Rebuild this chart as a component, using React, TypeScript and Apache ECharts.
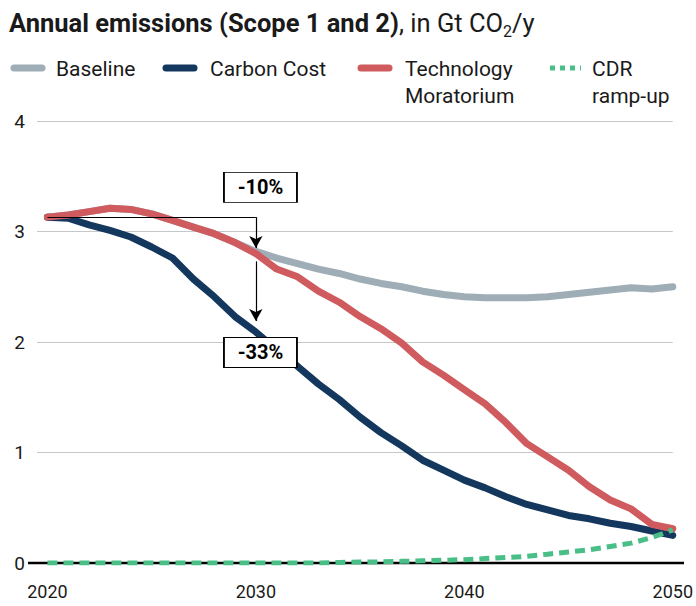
import React, { useEffect, useRef } from "react";
import * as echarts from "echarts";

const FONT = "Roboto";
const TEXT = "#1a1a1a";

const years = [
  2020, 2021, 2022, 2023, 2024, 2025, 2026, 2027, 2028, 2029, 2030,
  2031, 2032, 2033, 2034, 2035, 2036, 2037, 2038, 2039, 2040,
  2041, 2042, 2043, 2044, 2045, 2046, 2047, 2048, 2049, 2050,
];
const baseline = [
  3.13, 3.15, 3.18, 3.21, 3.2, 3.16, 3.1, 3.04, 2.98, 2.9, 2.82,
  2.76, 2.71, 2.66, 2.62, 2.57, 2.53, 2.5, 2.46, 2.43, 2.41,
  2.4, 2.4, 2.4, 2.41, 2.43, 2.45, 2.47, 2.49, 2.48, 2.5,
];
const carbonCost = [
  3.13, 3.12, 3.06, 3.01, 2.95, 2.86, 2.76, 2.57, 2.41, 2.23, 2.09,
  1.93, 1.78, 1.62, 1.48, 1.32, 1.18, 1.06, 0.93, 0.84, 0.75,
  0.68, 0.6, 0.53, 0.48, 0.43, 0.4, 0.36, 0.33, 0.29, 0.25,
];
const techMoratorium = [
  3.13, 3.15, 3.18, 3.21, 3.2, 3.16, 3.1, 3.04, 2.98, 2.9, 2.8,
  2.66, 2.59, 2.46, 2.36, 2.23, 2.12, 1.99, 1.82, 1.7, 1.57,
  1.44, 1.27, 1.08, 0.96, 0.84, 0.69, 0.57, 0.49, 0.35, 0.31,
];
const cdrRampUp = [
  0, 0, 0, 0, 0, 0, 0, 0, 0, 0, 0,
  0, 0, 0, 0.005, 0.01, 0.01, 0.015, 0.02, 0.025, 0.03,
  0.04, 0.05, 0.06, 0.08, 0.1, 0.12, 0.15, 0.18, 0.23, 0.3,
];
const xTickLabels = [2020, 2030, 2040, 2050];
const seriesNames = ["Baseline", "Carbon Cost", "Technology\nMoratorium", "CDR\nramp-up"];
const colors = ["#9eadb6", "#14375e", "#d05b5f", "#49bf87"];

// annotation values
const refStartYear = 2020;
const refYear = 2030;
const refLevel = 3.13;
const arrow1End = 2.85;
const arrow2Start = 2.73;
const arrow2End = 2.19;
const labels = ["-10%", "-33%"];
const labelYears = [2030.22, 2030.22];
const labelLevels = [3.4, 1.905];

const pairs = (vals: number[]) => years.map((y, i) => [y, vals[i]]);

export default function App() {
  const ref = useRef<HTMLDivElement>(null);
  useEffect(() => {
    if (!ref.current) return;
    const chart = echarts.init(ref.current, undefined, { renderer: "svg" });
    const lineBase = (name: string, color: string, vals: number[], z: number) => ({
      type: "line",
      name,
      data: pairs(vals),
      showSymbol: false,
      symbol: "none",
      z,
      lineStyle: { color, width: 7, cap: "round", join: "round" },
    });

    const legendItems: any[] = [];
    const legendIconX = [11, 163, 358, 550];
    const legendTextX = [56, 210, 405, 592];
    const legendY = 68;
    seriesNames.forEach((n, i) => {
      const dotted = i === 3;
      legendItems.push({
        type: "line",
        shape: { x1: legendIconX[i] + (dotted ? 0 : 3), y1: legendY, x2: legendIconX[i] + 31, y2: legendY },
        style: {
          stroke: colors[i],
          lineWidth: dotted ? 5 : 7,
          lineCap: dotted ? "butt" : "round",
          lineDash: dotted ? [5, 5] : null,
        },
      });
      legendItems.push({
        type: "text",
        x: legendTextX[i],
        y: legendY - 13,
        style: {
          text: n,
          font: `21px ${FONT}`,
          fill: TEXT,
          lineHeight: 27,
          verticalAlign: "top",
        },
      });
    });

    const option: any = {
      animation: false,
      textStyle: { fontFamily: FONT },
      title: {
        left: 4,
        top: 2,
        text: "{b|Annual emissions (Scope 1 and 2)}{r|, in Gt CO}{s|2}{r|/y}",
        textStyle: {
          rich: {
            b: { fontFamily: FONT, fontWeight: "bold", fontSize: 25.5, color: TEXT, lineHeight: 30 },
            r: { fontFamily: FONT, fontWeight: "normal", fontSize: 25.5, color: TEXT, lineHeight: 30 },
            s: { fontFamily: FONT, fontWeight: "normal", fontSize: 16, color: TEXT, padding: [16, 0, 0, 0] },
          },
        },
      },
      grid: { left: 37, right: 23, top: 121, bottom: 43, containLabel: false },
      xAxis: {
        type: "value",
        min: 2019.5,
        max: 2050,
        axisLine: { show: false },
        axisTick: { show: false },
        splitLine: { show: false },
        axisLabel: {
          customValues: xTickLabels,
          formatter: (v: number) => String(v),
          color: TEXT,
          fontSize: 18,
          margin: 19,
          fontFamily: FONT,
        },
      },
      yAxis: {
        type: "value",
        min: 0,
        max: 4,
        interval: 1,
        axisLine: { show: false },
        axisTick: { show: false },
        axisLabel: { color: TEXT, fontSize: 19, margin: 12, fontFamily: FONT },
        splitLine: { lineStyle: { color: "#c4c8c8", width: 1.2 } },
      },
      graphic: [
        {
          type: "line",
          z: 1,
          shape: { x1: 28, y1: 563, x2: 684, y2: 563 },
          style: { stroke: "#000", lineWidth: 2.5 },
        },
        ...legendItems,
      ],
      series: [
        lineBase("Baseline", colors[0], baseline, 2),
        lineBase("Carbon Cost", colors[1], carbonCost, 3),
        lineBase("Technology Moratorium", colors[2], techMoratorium, 4),
        {
          type: "line",
          name: "CDR ramp-up",
          data: pairs(cdrRampUp),
          showSymbol: false,
          symbol: "none",
          z: 5,
          lineStyle: { color: colors[3], width: 5, type: [10, 6], cap: "butt" },
        },
        {
          type: "line",
          name: "annotations",
          data: [],
          z: 10,
          markLine: {
            silent: true,
            animation: false,
            symbolSize: [10, 12],
            label: { show: false },
            lineStyle: { color: "#000", width: 1.2, type: "solid" },
            data: [
              [
                { coord: [refStartYear, refLevel], symbol: "none" },
                { coord: [refYear, refLevel], symbol: "none" },
              ],
              [
                { coord: [refYear, refLevel], symbol: "none" },
                { coord: [refYear, arrow1End], symbol: "arrow" },
              ],
              [
                { coord: [refYear, arrow2Start], symbol: "none" },
                { coord: [refYear, arrow2End], symbol: "arrow" },
              ],
            ],
          },
          markPoint: {
            silent: true,
            animation: false,
            symbol: "rect",
            symbolSize: [73, 30],
            itemStyle: { color: "#fff", borderColor: "#000", borderWidth: 1.2 },
            label: {
              show: true,
              position: "inside",
              color: "#000",
              fontWeight: "bold",
              fontSize: 20,
              fontFamily: FONT,
              formatter: (p: any) => p.name,
            },
            data: labels.map((l, i) => ({ name: l, coord: [labelYears[i], labelLevels[i]] })),
          },
        },
      ],
    };
    chart.setOption(option);
    return () => chart.dispose();
  }, []);
  return (
    <div
      ref={ref}
      style={{ position: "fixed", left: 0, top: 0, width: 696, height: 606, overflow: "hidden", background: "#fff" }}
    />
  );
}
